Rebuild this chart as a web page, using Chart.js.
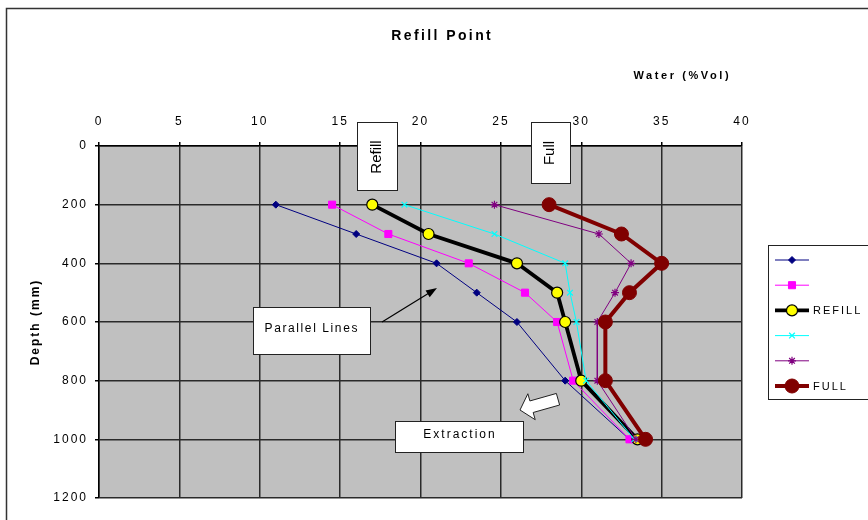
<!DOCTYPE html>
<html>
<head>
<meta charset="utf-8">
<title>Refill Point</title>
<script src="https://cdn.jsdelivr.net/npm/chart.js@4.4.1/dist/chart.umd.min.js"></script>
<style>
  html, body { margin: 0; padding: 0; background: #ffffff; }
  canvas { display: block; }
</style>
</head>
<body>
<canvas id="chart" width="868" height="520"></canvas>
<script>
// Soil moisture profiles: water content (%Vol) at each depth (mm)
const depths = [200, 300, 400, 500, 600, 800, 1000];

const profile1 = [11, 16, 21, 23.5, 26, 29, 33];
const profile2 = [14.5, 18, 23, 26.5, 28.5, 29.5, 33];
const refill   = [17, 20.5, 26, 28.5, 29, 30, 33.5];
const profile4 = [19, 24.6, 29, 29.3, 29.7, 30.3, 33.3];
const profile5 = [24.6, 31.1, 33.1, 32.1, 31, 31, 33.4];
const full     = [28, 32.5, 35, 33, 31.5, 31.5, 34];

const seriesLabels = ['', '', 'REFILL', '', '', 'FULL'];

const xTickValues = [0, 5, 10, 15, 20, 25, 30, 35, 40];
const yTickValues = [0, 200, 400, 600, 800, 1000, 1200];

const FONT = "'Liberation Sans', Arial, Helvetica, sans-serif";

function toPoints(values) {
  return values.map((v, i) => ({ x: v, y: depths[i] }));
}

const styles = [
  { color: '#000080', width: 1,   pointStyle: 'rectRot',  radius: 3.5, fill: '#000080', border: '#000080', pbw: 1 },
  { color: '#FF00FF', width: 1,   pointStyle: 'rect',     radius: 5,   fill: '#FF00FF', border: '#FF00FF', pbw: 1 },
  { color: '#000000', width: 3.8, pointStyle: 'circle',   radius: 5.5, fill: '#FFFF00', border: '#000000', pbw: 1.2 },
  { color: '#00FFFF', width: 1,   pointStyle: 'crossRot', radius: 4,   fill: '#00FFFF', border: '#00FFFF', pbw: 1.2 },
  { color: '#800080', width: 1,   pointStyle: 'star',     radius: 4,   fill: '#800080', border: '#800080', pbw: 1.2 },
  { color: '#800000', width: 4,   pointStyle: 'circle',   radius: 7,   fill: '#800000', border: '#800000', pbw: 1 }
];

const seriesValues = [profile1, profile2, refill, profile4, profile5, full];

const datasets = seriesValues.map((vals, i) => ({
  label: seriesLabels[i],
  data: toPoints(vals),
  showLine: true,
  fill: false,
  tension: 0,
  borderColor: styles[i].color,
  borderWidth: styles[i].width,
  pointStyle: styles[i].pointStyle,
  pointRadius: styles[i].radius,
  pointBackgroundColor: styles[i].fill,
  pointBorderColor: styles[i].border,
  pointBorderWidth: styles[i].pbw,
  order: seriesValues.length - i
}));

function drawMarker(ctx, ds, x, y) {
  ctx.save();
  ctx.fillStyle = ds.pointBackgroundColor;
  ctx.strokeStyle = ds.pointBorderColor;
  ctx.lineWidth = ds.pointBorderWidth;
  if (Chart.helpers && Chart.helpers.drawPoint) {
    Chart.helpers.drawPoint(ctx, {
      pointStyle: ds.pointStyle, radius: ds.pointRadius, rotation: 0, borderWidth: ds.pointBorderWidth
    }, x, y);
  } else {
    ctx.beginPath();
    ctx.arc(x, y, ds.pointRadius, 0, Math.PI * 2);
    ctx.fill();
    ctx.stroke();
  }
  ctx.restore();
}

function textBox(ctx, x, y, w, h) {
  ctx.save();
  ctx.fillStyle = '#ffffff';
  ctx.strokeStyle = '#222222';
  ctx.lineWidth = 1;
  ctx.fillRect(x, y, w, h);
  ctx.strokeRect(x + 0.5, y + 0.5, w - 1, h - 1);
  ctx.restore();
}

function spacedText(ctx, text, x, y, font, spacing, align) {
  ctx.save();
  ctx.font = font;
  ctx.letterSpacing = spacing + 'px';
  ctx.fillStyle = '#000000';
  ctx.textAlign = align || 'center';
  ctx.textBaseline = 'middle';
  ctx.fillText(text, x + (align === 'left' ? 0 : spacing / 2), y);
  ctx.restore();
}

const plotBackground = {
  id: 'plotBackground',
  beforeDraw(chart) {
    const { ctx, chartArea: a } = chart;
    ctx.save();
    ctx.fillStyle = '#C0C0C0';
    ctx.fillRect(a.left, a.top, a.right - a.left, a.bottom - a.top);
    ctx.restore();
    ctx.letterSpacing = '2px';
  }
};

const decorations = {
  id: 'decorations',
  afterDraw(chart) {
    const ctx = chart.ctx;
    ctx.save();
    ctx.letterSpacing = '0px';

    // outer frame
    ctx.strokeStyle = '#333333';
    ctx.lineWidth = 1.5;
    ctx.strokeRect(6.5, 8.5, 900, 600);

    // chart title and x-axis title
    spacedText(ctx, 'Refill Point', 441, 36, 'bold 14px ' + FONT, 2.4);
    spacedText(ctx, 'Water (%Vol)', 681, 76, 'bold 11px ' + FONT, 2.6);

    // "Refill" and "Full" labels (vertical)
    textBox(ctx, 357, 122, 41, 69);
    textBox(ctx, 531, 122, 40, 62);
    ctx.save();
    ctx.font = '15px ' + FONT;
    ctx.fillStyle = '#000';
    ctx.textAlign = 'center';
    ctx.textBaseline = 'middle';
    ctx.translate(377, 157);
    ctx.rotate(-Math.PI / 2);
    ctx.fillText('Refill', 0, 0);
    ctx.restore();
    ctx.save();
    ctx.font = '15px ' + FONT;
    ctx.fillStyle = '#000';
    ctx.textAlign = 'center';
    ctx.textBaseline = 'middle';
    ctx.translate(550, 153);
    ctx.rotate(-Math.PI / 2);
    ctx.fillText('Full', 0, 0);
    ctx.restore();

    // "Parallel Lines" callout with arrow
    textBox(ctx, 253, 307, 118, 48);
    spacedText(ctx, 'Parallel Lines', 311, 329, '12px ' + FONT, 1.6);
    const ax0 = 382, ay0 = 322, ax1 = 437, ay1 = 288;
    const ang = Math.atan2(ay1 - ay0, ax1 - ax0);
    ctx.strokeStyle = '#000';
    ctx.lineWidth = 1.2;
    ctx.beginPath();
    ctx.moveTo(ax0, ay0);
    ctx.lineTo(ax1 - 6 * Math.cos(ang), ay1 - 6 * Math.sin(ang));
    ctx.stroke();
    ctx.fillStyle = '#000';
    ctx.beginPath();
    ctx.moveTo(ax1, ay1);
    ctx.lineTo(ax1 - 11 * Math.cos(ang) + 4 * Math.sin(ang), ay1 - 11 * Math.sin(ang) - 4 * Math.cos(ang));
    ctx.lineTo(ax1 - 11 * Math.cos(ang) - 4 * Math.sin(ang), ay1 - 11 * Math.sin(ang) + 4 * Math.cos(ang));
    ctx.closePath();
    ctx.fill();

    // "Extraction" callout with block arrow
    textBox(ctx, 395, 421, 129, 32);
    spacedText(ctx, 'Extraction', 459, 435, '12px ' + FONT, 2);
    const tipX = 520, tipY = 410;
    const ux = 0.962, uy = -0.273, vx = 0.273, vy = 0.962;
    const local = [[0, 0], [12, -13.5], [12, -6], [39.5, -6], [39.5, 6], [12, 6], [12, 13.5]];
    ctx.beginPath();
    local.forEach(([a, b], k) => {
      const px = tipX + a * ux + b * vx;
      const py = tipY + a * uy + b * vy;
      if (k === 0) ctx.moveTo(px, py); else ctx.lineTo(px, py);
    });
    ctx.closePath();
    ctx.fillStyle = '#ffffff';
    ctx.fill();
    ctx.strokeStyle = '#222';
    ctx.lineWidth = 1;
    ctx.stroke();

    // legend
    ctx.fillStyle = '#ffffff';
    ctx.fillRect(768, 245, 120, 154);
    ctx.strokeStyle = '#222';
    ctx.lineWidth = 1;
    ctx.strokeRect(768.5, 245.5, 120, 154);
    chart.data.datasets.forEach((ds, i) => {
      const y = 260 + i * 25.2;
      ctx.save();
      ctx.strokeStyle = ds.borderColor;
      ctx.lineWidth = ds.borderWidth;
      ctx.beginPath();
      ctx.moveTo(775, y);
      ctx.lineTo(809, y);
      ctx.stroke();
      ctx.restore();
      drawMarker(ctx, ds, 792, y);
      if (ds.label) {
        spacedText(ctx, ds.label, 813, y + 0.5, '11px ' + FONT, 2, 'left');
      }
    });

    ctx.restore();
  }
};

new Chart(document.getElementById('chart'), {
  type: 'line',
  data: { datasets },
  options: {
    responsive: false,
    devicePixelRatio: 1,
    animation: false,
    events: [],
    layout: { padding: { left: 0, top: 0, right: 126, bottom: 22 } },
    plugins: {
      legend: { display: false },
      title: { display: false },
      tooltip: { enabled: false }
    },
    scales: {
      x: {
        type: 'linear',
        position: 'top',
        min: 0,
        max: 40,
        afterBuildTicks: s => { s.ticks = xTickValues.map(v => ({ value: v })); },
        afterFit: s => { s.height = 146; },
        ticks: {
          color: '#000',
          font: { family: FONT, size: 12 },
          padding: 13,
          maxRotation: 0,
          autoSkip: false,
          callback: v => String(v)
        },
        grid: { color: '#2a2a2a', lineWidth: 1.5, drawTicks: true, tickLength: 4, tickColor: '#000' },
        border: { color: '#000', width: 1.5 }
      },
      y: {
        type: 'linear',
        reverse: true,
        min: 0,
        max: 1200,
        afterBuildTicks: s => { s.ticks = yTickValues.map(v => ({ value: v })); },
        afterFit: s => { s.width = 99; },
        ticks: {
          color: '#000',
          font: { family: FONT, size: 12 },
          padding: 7,
          autoSkip: false,
          callback: v => String(v)
        },
        grid: { color: '#2a2a2a', lineWidth: 1.5, drawTicks: true, tickLength: 4, tickColor: '#000' },
        border: { color: '#000', width: 1.5 },
        title: {
          display: true,
          text: 'Depth (mm)',
          color: '#000',
          font: { family: FONT, size: 12, weight: 'bold' },
          padding: { top: 28, bottom: 0 }
        }
      }
    }
  },
  plugins: [plotBackground, decorations]
});
</script>
</body>
</html>
